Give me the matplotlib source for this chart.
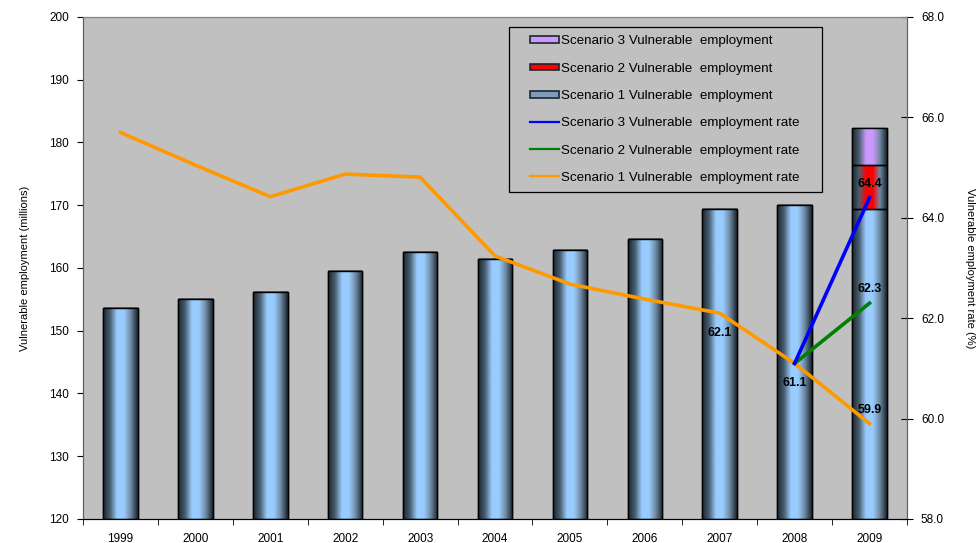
import matplotlib
matplotlib.use('Agg')
import matplotlib.pyplot as plt
import numpy as np
from matplotlib.colors import LinearSegmentedColormap
from matplotlib.patches import Patch, Rectangle
from matplotlib.lines import Line2D
from matplotlib.legend_handler import HandlerBase

plt.rcParams['font.family'] = ['Liberation Sans', 'DejaVu Sans']

years = ['1999', '2000', '2001', '2002', '2003', '2004',
         '2005', '2006', '2007', '2008', '2009']

# vulnerable employment, millions
scen1_emp = [153.7, 155.0, 156.1, 159.6, 162.5, 161.4,
             162.9, 164.6, 169.4, 170.1, 169.4]
scen2_extra = [0, 0, 0, 0, 0, 0, 0, 0, 0, 0, 7.0]
scen3_extra = [0, 0, 0, 0, 0, 0, 0, 0, 0, 0, 5.9]

# vulnerable employment rate, %
scen1_rate = [65.7, 65.05, 64.42, 64.87, 64.81, 63.24,
              62.68, 62.38, 62.1, 61.1, 59.9]
scen2_rate = [61.1, 62.3]
scen3_rate = [61.1, 64.4]

blue = '#99CCFF'
red = '#FF0000'
purple = '#CC99FF'
dark = '#1c2631'


def cyl_cmap(c):
    return LinearSegmentedColormap.from_list(
        'cyl', [dark, '#4a6070', c, c, '#6f8aa3', dark])


class RightHandler(HandlerBase):
    # draw the legend key only in the right part of the handle box
    def __init__(self, frac=0.7):
        super().__init__()
        self.frac = frac

    def create_artists(self, legend, orig, xdescent, ydescent, width,
                       height, fontsize, trans):
        x0 = -xdescent + width * (1 - self.frac)
        x1 = -xdescent + width
        if isinstance(orig, Patch):
            art = Rectangle((x0, -ydescent + height * 0.1), x1 - x0,
                            height * 0.8, facecolor=orig.get_facecolor(),
                            edgecolor=dark, lw=1.2)
        else:
            yc = -ydescent + height / 2
            art = Line2D([x0, x1], [yc, yc], color=orig.get_color(), lw=1.6)
        art.set_transform(trans)
        return [art]


fig = plt.figure(figsize=(9.8, 5.43), dpi=100)
ax = fig.add_axes([0.0847, 0.0442, 0.8408, 0.9245])
ax.set_facecolor('#C0C0C0')
ax2 = ax.twinx()

x = np.arange(len(years))
w = 0.46
base = 120
grad = np.linspace(0, 1, 64).reshape(1, -1)

bottoms2 = np.array(scen1_emp)
bottoms3 = bottoms2 + np.array(scen2_extra)
layers = [(np.array(scen1_emp) - base, base, blue),
          (np.array(scen2_extra), bottoms2, red),
          (np.array(scen3_extra), bottoms3, purple)]
for h, b, col in layers:
    bars = ax.bar(x, h, w, bottom=b, color=col, edgecolor='black',
                  linewidth=1.0, zorder=2)
    for p in bars:
        if p.get_height() <= 0:
            continue
        x0, y0 = p.get_x(), p.get_y()
        im = ax.imshow(grad, extent=[x0, x0 + p.get_width(), y0,
                                     y0 + p.get_height()],
                       aspect='auto', cmap=cyl_cmap(col), zorder=2.5,
                       interpolation='bicubic')
        im.set_clip_path(p)
        ax.bar(p.get_x() + w / 2, p.get_height(), w, bottom=y0,
               fill=False, edgecolor='black', linewidth=1.0, zorder=3)

ax.set_xlim(-0.5, len(years) - 0.5)
ax.set_ylim(120, 200)
ax.set_yticks(range(120, 201, 10))
ax.set_xticks(x)
ax.set_xticklabels(years)
ax.set_xticks(np.arange(-0.5, len(years), 1), minor=True)
ax.tick_params(axis='x', which='major', length=0, pad=10, labelsize=8.5)
ax.tick_params(axis='x', which='minor', length=4, direction='out')
ax.tick_params(axis='y', length=4, labelsize=8.5, pad=6)
ax.set_ylabel('Vulnerable employment (millions)', fontsize=8, labelpad=14)

ax2.plot(x, scen1_rate, color='#FF9900', lw=2.6, zorder=5,
         solid_joinstyle='miter')
ax2.plot(x[-2:], scen2_rate, color='#008000', lw=2.6, zorder=5)
ax2.plot(x[-2:], scen3_rate, color='#0000FF', lw=2.6, zorder=5)
ax2.set_ylim(58, 68)
ax2.set_yticks(np.arange(58, 68.1, 2))
ax2.set_yticklabels(['%.1f' % v for v in np.arange(58, 68.1, 2)])
ax2.tick_params(axis='y', length=8, direction='inout', labelsize=8.5, pad=6)
ax2.set_ylabel('Vulnerable employment rate (%)', fontsize=8,
               rotation=270, labelpad=22)

lab = dict(fontsize=9, fontweight='bold', ha='center', zorder=6)
ax2.annotate('%.1f' % scen1_rate[8], (x[8], scen1_rate[8]),
             xytext=(0, -14), textcoords='offset points', va='center', **lab)
ax2.annotate('%.1f' % scen1_rate[9], (x[9], scen1_rate[9]),
             xytext=(0, -14), textcoords='offset points', va='center', **lab)
ax2.annotate('%.1f' % scen1_rate[10], (x[10], scen1_rate[10]),
             xytext=(0, 10), textcoords='offset points', va='center', **lab)
ax2.annotate('%.1f' % scen2_rate[1], (x[10], scen2_rate[1]),
             xytext=(0, 10), textcoords='offset points', va='center', **lab)
ax2.annotate('%.1f' % scen3_rate[1], (x[10], scen3_rate[1]),
             xytext=(0, 10), textcoords='offset points', va='center', **lab)

for a in (ax, ax2):
    a.spines['top'].set_color('#808080')
    a.spines['left'].set_color('#606060')
    a.spines['right'].set_color('#606060')
    a.spines['bottom'].set_color('black')

handles = [Patch(facecolor=purple),
           Patch(facecolor=red),
           Patch(facecolor='#7d9cbc'),
           Line2D([], [], color='#0000FF'),
           Line2D([], [], color='#008000'),
           Line2D([], [], color='#FF9900')]
labels = ['Scenario 3 Vulnerable  employment',
          'Scenario 2 Vulnerable  employment',
          'Scenario 1 Vulnerable  employment',
          'Scenario 3 Vulnerable  employment rate    ',
          'Scenario 2 Vulnerable  employment rate',
          'Scenario 1 Vulnerable  employment rate']
hmap = {hd: RightHandler() for hd in handles}
leg = ax2.legend(handles, labels, handler_map=hmap, loc='upper left',
                 bbox_to_anchor=(0.517, 0.980), fontsize=9.6,
                 frameon=True, fancybox=False, edgecolor='black',
                 facecolor='#C0C0C0', framealpha=1, labelspacing=1.15,
                 handlelength=3.1, handleheight=0.6, handletextpad=0.15,
                 borderpad=0.62, borderaxespad=0)
leg.get_frame().set_linewidth(0.9)
leg.set_zorder(10)

fig.savefig('out.png', dpi=100)
